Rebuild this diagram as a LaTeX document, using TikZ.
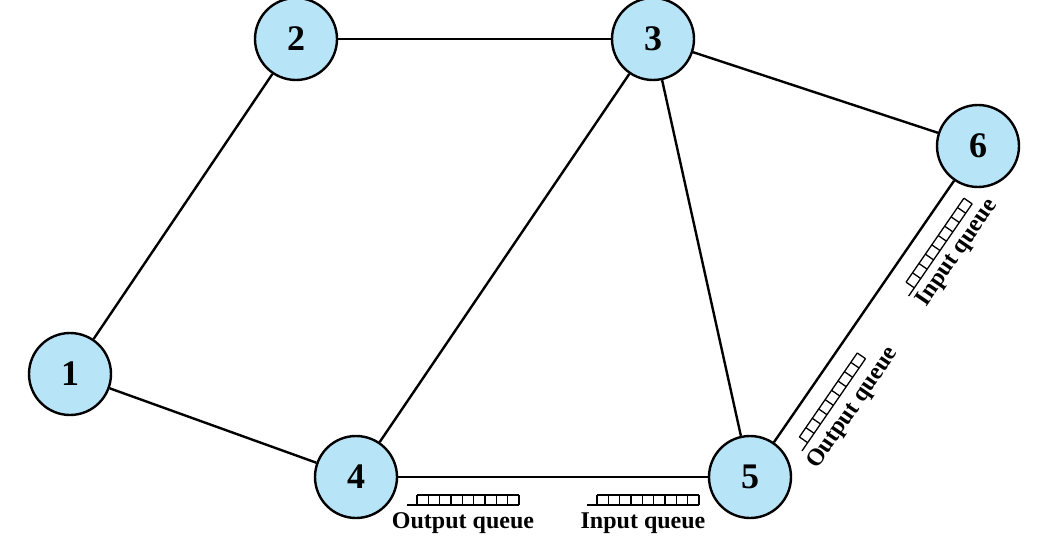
\documentclass[tikz,border=0pt]{standalone}
\usepackage{fontspec}
\setmainfont{Liberation Serif}
\definecolor{nodefill}{RGB}{184,228,248}
\tikzset{
  router/.style={circle,draw=black,line width=2.4pt,fill=nodefill,minimum size=82pt,inner sep=0pt,font=\fontsize{36}{36}\selectfont\bfseries},
  link/.style={line width=2.4pt},
  qline/.style={line width=1.3pt},
  qlabel/.style={font=\fontsize{24}{24}\selectfont\bfseries,inner sep=0pt}
}
\newcommand{\drawqueue}[1]{% #1 = start of queue along edge
  \draw[qline] (#1,-28) -- ++(112,0);
  \draw[qline] (#1+10,-18) -- ++(102,0);
  \foreach \k in {0,...,9} {\draw[qline] (#1+10+\k*11.33,-18) -- ++(0,-10);}
}
\begin{document}
\begin{tikzpicture}[x=1pt,y=1pt]
\useasboundingbox (0,0) rectangle (1049,547);
\node[router] (n1) at (70,173) {1};
\node[router] (n2) at (296,508) {2};
\node[router] (n3) at (653,508) {3};
\node[router] (n4) at (356,70) {4};
\node[router] (n5) at (750,70) {5};
\node[router] (n6) at (978,401) {6};
\draw[link] (n1) -- (n2);
\draw[link] (n2) -- (n3);
\draw[link] (n3) -- (n6);
\draw[link] (n3) -- (n4);
\draw[link] (n3) -- (n5);
\draw[link] (n1) -- (n4);
\draw[link] (n4) -- (n5);
\draw[link] (n5) -- (n6);
% queues on link 4-5
\begin{scope}[shift={(n4.center)}]
  \drawqueue{51}
  \node[qlabel] (oq45) at (107,-46) {Output queue};
  \drawqueue{394-163}
  \node[qlabel] (iq45) at (394-107,-46) {Input queue};
\end{scope}
% queues on link 5-6
\begin{scope}[shift={(n5.center)},rotate=55.44,transform shape]
  \drawqueue{51}
  \node[qlabel] (oq56) at (115,-46) {Output queue};
  \drawqueue{402-163}
  \node[qlabel] (iq56) at (402-100,-44) {Input queue};
\end{scope}
\end{tikzpicture}
\end{document}
